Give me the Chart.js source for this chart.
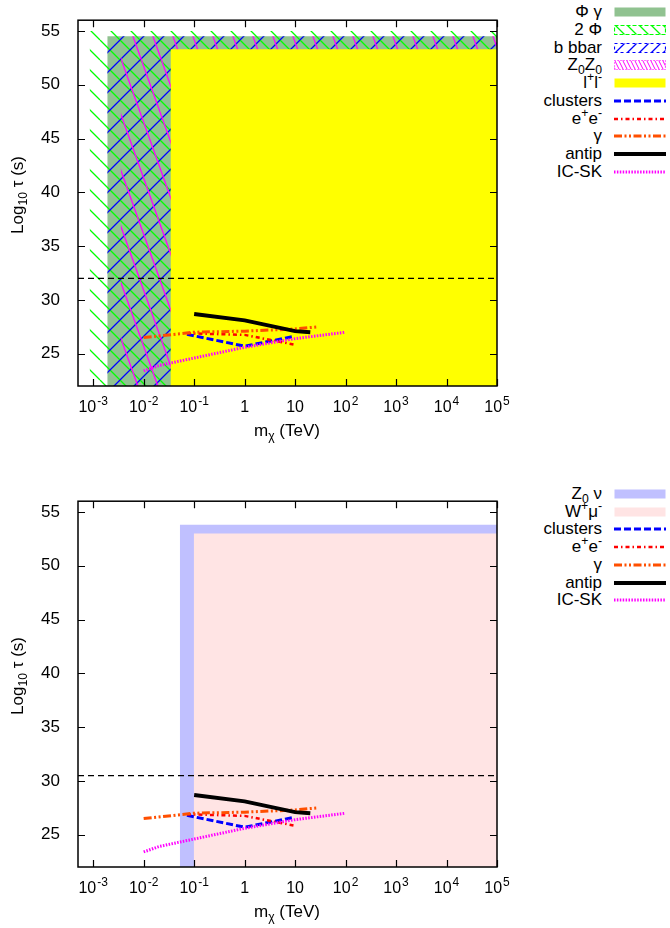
<!DOCTYPE html>
<html>
<head>
<meta charset="utf-8">
<script src="https://cdn.jsdelivr.net/npm/chart.js@4/dist/chart.umd.min.js"></script>
<style>
  html, body { margin: 0; padding: 0; background: #fff; overflow: hidden; }
  #wrap { position: relative; width: 670px; height: 928px; font-family: Arial, "Liberation Sans", sans-serif; color: #000; }
  canvas.chart { position: absolute; left: 0; }
  .lbl { position: absolute; font-size: 17px; line-height: 18px; white-space: nowrap; text-align: right; }
  .lbl sup, .lbl sub { font-size: 72%; line-height: 0; }
  .lbl sup { vertical-align: 0.55em; }
  .lbl sub { vertical-align: -0.3em; }
  .samp { position: absolute; }
  .title { position: absolute; font-size: 17px; white-space: nowrap; }
  .title sub { font-size: 72%; line-height: 0; vertical-align: -0.3em; }
</style>
</head>
<body>
<div id="wrap">
  <canvas id="c1" class="chart" width="520" height="450" style="top:0px"></canvas>
  <canvas id="c2" class="chart" width="520" height="450" style="top:481px"></canvas>
</div>
<script>
// ---------------- DATA ----------------
const massTicks = [1e-3, 1e-2, 1e-1, 1, 10, 1e2, 1e3, 1e4, 1e5];
const massTickBase = ['10', '10', '10', '1', '10', '10', '10', '10', '10'];
const massTickExp = ['-3', '-2', '-1', '', '', '2', '3', '4', '5'];
const tauTicks = [25, 30, 35, 40, 45, 50, 55];
const massRange = [5e-4, 1e5];
const tauRange = [22, 56];

// excluded regions (lower mass edge, upper log10 tau edge); they extend to the max mass
const topRegionNames = ['Φ γ', '2 Φ', 'b bbar', 'Z<sub>0</sub>Z<sub>0</sub>', 'l<sup>+</sup>l<sup>-</sup>'];
const topRegionStart = [0.0019, 0.00085, 0.0019, 0.0035, 0.034];
const topRegionTau = [54.5, 55.0, 54.5, 54.5, 53.3];
const bottomRegionNames = ['Z<sub>0</sub> ν', 'W<sup>+</sup>μ<sup>-</sup>'];
const bottomRegionStart = [0.052, 0.098];
const bottomRegionTau = [53.8, 53.0];

// horizontal dashed bound
const topBoundTau = 32;
const bottomBoundTau = 30.5;

// limit curves
const lineNames = ['clusters', 'e<sup>+</sup>e<sup>-</sup>', 'γ', 'antip', 'IC-SK'];
const clustersMass = [0.072, 1, 9.3];
const clustersTau = [26.8, 25.7, 26.6];
const eeMass = [0.072, 1, 9.5];
const eeTau = [26.9, 26.75, 25.85];
const gammaMass = [0.01, 0.1, 1, 10, 28];
const gammaTau = [26.5, 27.0, 27.1, 27.3, 27.5];
const antipMass = [0.1, 1, 10, 20];
const antipTau = [28.7, 28.1, 27.1, 27.0];
const icskMass = [0.01, 0.02, 0.05, 0.1, 1, 10, 100];
const icskTau = [23.4, 23.9, 24.3, 24.6, 25.6, 26.4, 27.0];

// ---------------- STYLES ----------------
const FONT = 'Arial, "Liberation Sans", sans-serif';

function makePattern(color, kind, P, H, lw) {
  const c = document.createElement('canvas');
  c.width = P; c.height = H;
  const g = c.getContext('2d');
  g.strokeStyle = color; g.lineWidth = lw;
  g.beginPath();
  for (const o of [-P, 0, P]) {
    if (kind === 'back') { g.moveTo(o, 0); g.lineTo(o + P, H); }
    else { g.moveTo(o, H); g.lineTo(o + P, 0); }
  }
  g.stroke();
  return g.createPattern(c, 'repeat');
}

const regionStylesTop = [
  { fill: '#90c290' },
  { fill: makePattern('#00ff00', 'back', 20, 20, 1.3), legFill: makePattern('#00ff00', 'back', 12, 12, 1.3), border: '#00ff00', dash: [4, 2] },
  { fill: makePattern('#0000ff', 'fwd', 20, 20, 1.3), legFill: makePattern('#0000ff', 'fwd', 12, 12, 1.3), border: '#0000ff', dash: [3, 3] },
  { fill: makePattern('#ff00ff', 'back', 20, 56, 1.3), legFill: makePattern('#ff00ff', 'back', 4, 8, 1), border: '#ff00ff', dash: [1, 2] },
  { fill: '#ffff00' }
];
const regionStylesBottom = [
  { fill: '#c0c0ff' },
  { fill: '#ffe4e4' }
];
const lineStyles = [
  { color: '#0000ff', width: 3, dash: [7, 3] },
  { color: '#ff0000', width: 2.5, dash: [4, 3, 1.5, 3] },
  { color: '#ff4f00', width: 3, dash: [8, 2.5, 2, 2.5, 2, 2.5] },
  { color: '#000000', width: 4, dash: [] },
  { color: '#ff00ff', width: 3, dash: [1.5, 1.4] }
];
const lineData = [
  [clustersMass, clustersTau],
  [eeMass, eeTau],
  [gammaMass, gammaTau],
  [antipMass, antipTau],
  [icskMass, icskTau]
];

function pts(xs, ys) { return xs.map((x, i) => ({ x: x, y: ys[i] })); }

function buildDatasets(regStart, regTau, regStyles, boundTau) {
  const ds = [];
  regStart.forEach((x0, i) => {
    ds.push({
      data: pts([x0, massRange[1]], [regTau[i], regTau[i]]),
      backgroundColor: regStyles[i].fill,
      borderWidth: 0, borderColor: 'rgba(0,0,0,0)',
      pointRadius: 0, fill: 'start', tension: 0
    });
  });
  ds.push({
    data: pts(massRange, [boundTau, boundTau]),
    borderColor: '#000', borderWidth: 1.3, borderDash: [6, 4],
    pointRadius: 0, fill: false
  });
  lineData.forEach((d, i) => {
    const s = lineStyles[i];
    ds.push({
      data: pts(d[0], d[1]),
      borderColor: s.color, borderWidth: s.width, borderDash: s.dash,
      pointRadius: 0, fill: false, tension: 0, borderCapStyle: 'butt', borderJoinStyle: 'miter'
    });
  });
  const n = ds.length;
  ds.forEach((d, i) => { d.order = n - i; });
  return ds;
}

const framePlugin = {
  id: 'frame',
  afterDatasetsDraw(chart) {
    const { ctx, chartArea: a, scales } = chart;
    const x = scales.x, y = scales.y;
    ctx.save();
    ctx.strokeStyle = '#000';
    ctx.lineWidth = 1.2;
    ctx.beginPath();
    massTicks.forEach(v => {
      const px = Math.round(x.getPixelForValue(v)) + 0.5;
      ctx.moveTo(px, a.bottom); ctx.lineTo(px, a.bottom - 7);
      ctx.moveTo(px, a.top); ctx.lineTo(px, a.top + 7);
    });
    tauTicks.forEach(v => {
      const py = Math.round(y.getPixelForValue(v)) + 0.5;
      ctx.moveTo(a.left, py); ctx.lineTo(a.left + 7, py);
      ctx.moveTo(a.right, py); ctx.lineTo(a.right - 7, py);
    });
    ctx.stroke();
    ctx.lineWidth = 1.5;
    ctx.strokeRect(a.left, a.top, a.right - a.left, a.bottom - a.top);
    // x tick labels: base with raised exponent
    ctx.fillStyle = '#000';
    ctx.textBaseline = 'alphabetic';
    ctx.textAlign = 'left';
    const baseY = a.bottom + 26;
    massTicks.forEach((v, i) => {
      const px = x.getPixelForValue(v);
      ctx.font = '16px ' + FONT;
      const bw = ctx.measureText(massTickBase[i]).width;
      ctx.font = '12px ' + FONT;
      const ew = massTickExp[i] ? ctx.measureText(massTickExp[i]).width + 1 : 0;
      const x0 = px - (bw + ew) / 2;
      ctx.font = '16px ' + FONT;
      ctx.fillText(massTickBase[i], x0, baseY);
      if (massTickExp[i]) {
        ctx.font = '12px ' + FONT;
        ctx.fillText(massTickExp[i], x0 + bw + 1, baseY - 7);
      }
    });
    ctx.restore();
  }
};

function makeChart(id, datasets) {
  return new Chart(document.getElementById(id), {
    type: 'line',
    data: { datasets: datasets },
    options: {
      responsive: false, animation: false,
      layout: { padding: { top: 4, right: 23, left: 0, bottom: 0 } },
      plugins: { legend: { display: false }, tooltip: { enabled: false } },
      scales: {
        x: {
          type: 'logarithmic', min: massRange[0], max: massRange[1],
          grid: { display: false }, border: { display: false },
          afterBuildTicks: s => { s.ticks = massTicks.map(v => ({ value: v })); },
          afterFit: s => { s.height = 64; },
          ticks: { display: false }
        },
        y: {
          type: 'linear', min: tauRange[0], max: tauRange[1],
          grid: { display: false }, border: { display: false },
          afterBuildTicks: s => { s.ticks = tauTicks.map(v => ({ value: v })); },
          afterFit: s => { s.width = 78; },
          ticks: { color: '#000', padding: 10, font: { family: FONT, size: 17 }, callback: v => String(v) }
        }
      }
    },
    plugins: [framePlugin]
  });
}

makeChart('c1', buildDatasets(topRegionStart, topRegionTau, regionStylesTop, topBoundTau));
makeChart('c2', buildDatasets(bottomRegionStart, bottomRegionTau, regionStylesBottom, bottomBoundTau));

// ---------------- TITLES & LEGENDS (HTML) ----------------
const wrap = document.getElementById('wrap');
function addTitle(html, cx, cy, rotate) {
  const d = document.createElement('div');
  d.className = 'title';
  d.innerHTML = html;
  wrap.appendChild(d);
  const w = d.offsetWidth, h = d.offsetHeight;
  d.style.left = (cx - w / 2) + 'px';
  d.style.top = (cy - h / 2) + 'px';
  if (rotate) d.style.transform = 'rotate(-90deg)';
}
addTitle('m<sub>χ</sub> (TeV)', 287, 431, false);
addTitle('Log<sub>10</sub> τ (s)', 18, 195, true);
addTitle('m<sub>χ</sub> (TeV)', 287, 912, false);
addTitle('Log<sub>10</sub> τ (s)', 18, 676, true);

function addLegendRow(html, yc, drawSample) {
  const d = document.createElement('div');
  d.className = 'lbl';
  d.innerHTML = html;
  d.style.right = (670 - 602) + 'px';
  d.style.top = (yc - 9) + 'px';
  wrap.appendChild(d);
  const c = document.createElement('canvas');
  c.className = 'samp';
  c.width = 52; c.height = 12;
  c.style.left = '614px';
  c.style.top = (yc - 6) + 'px';
  wrap.appendChild(c);
  drawSample(c.getContext('2d'));
}
function boxSample(st) {
  return g => {
    g.fillStyle = st.legFill || st.fill;
    g.fillRect(0.5, 1.5, 51, 9);
    if (st.border) {
      g.strokeStyle = st.border; g.lineWidth = 1.2; g.setLineDash(st.dash);
      g.strokeRect(0.5, 1.5, 51, 9);
    }
  };
}
function lineSample(st) {
  return g => {
    g.strokeStyle = st.color; g.lineWidth = st.width; g.setLineDash(st.dash);
    g.beginPath(); g.moveTo(0, 6); g.lineTo(52, 6); g.stroke();
  };
}
let yc = 12;
topRegionNames.forEach((nm, i) => { addLegendRow(nm, yc, boxSample(regionStylesTop[i])); yc += 17.75; });
lineNames.forEach((nm, i) => { addLegendRow(nm, yc, lineSample(lineStyles[i])); yc += 17.75; });
yc = 494;
bottomRegionNames.forEach((nm, i) => { addLegendRow(nm, yc, boxSample(regionStylesBottom[i])); yc += 17.7; });
lineNames.forEach((nm, i) => { addLegendRow(nm, yc, lineSample(lineStyles[i])); yc += 17.7; });
</script>
</body>
</html>
